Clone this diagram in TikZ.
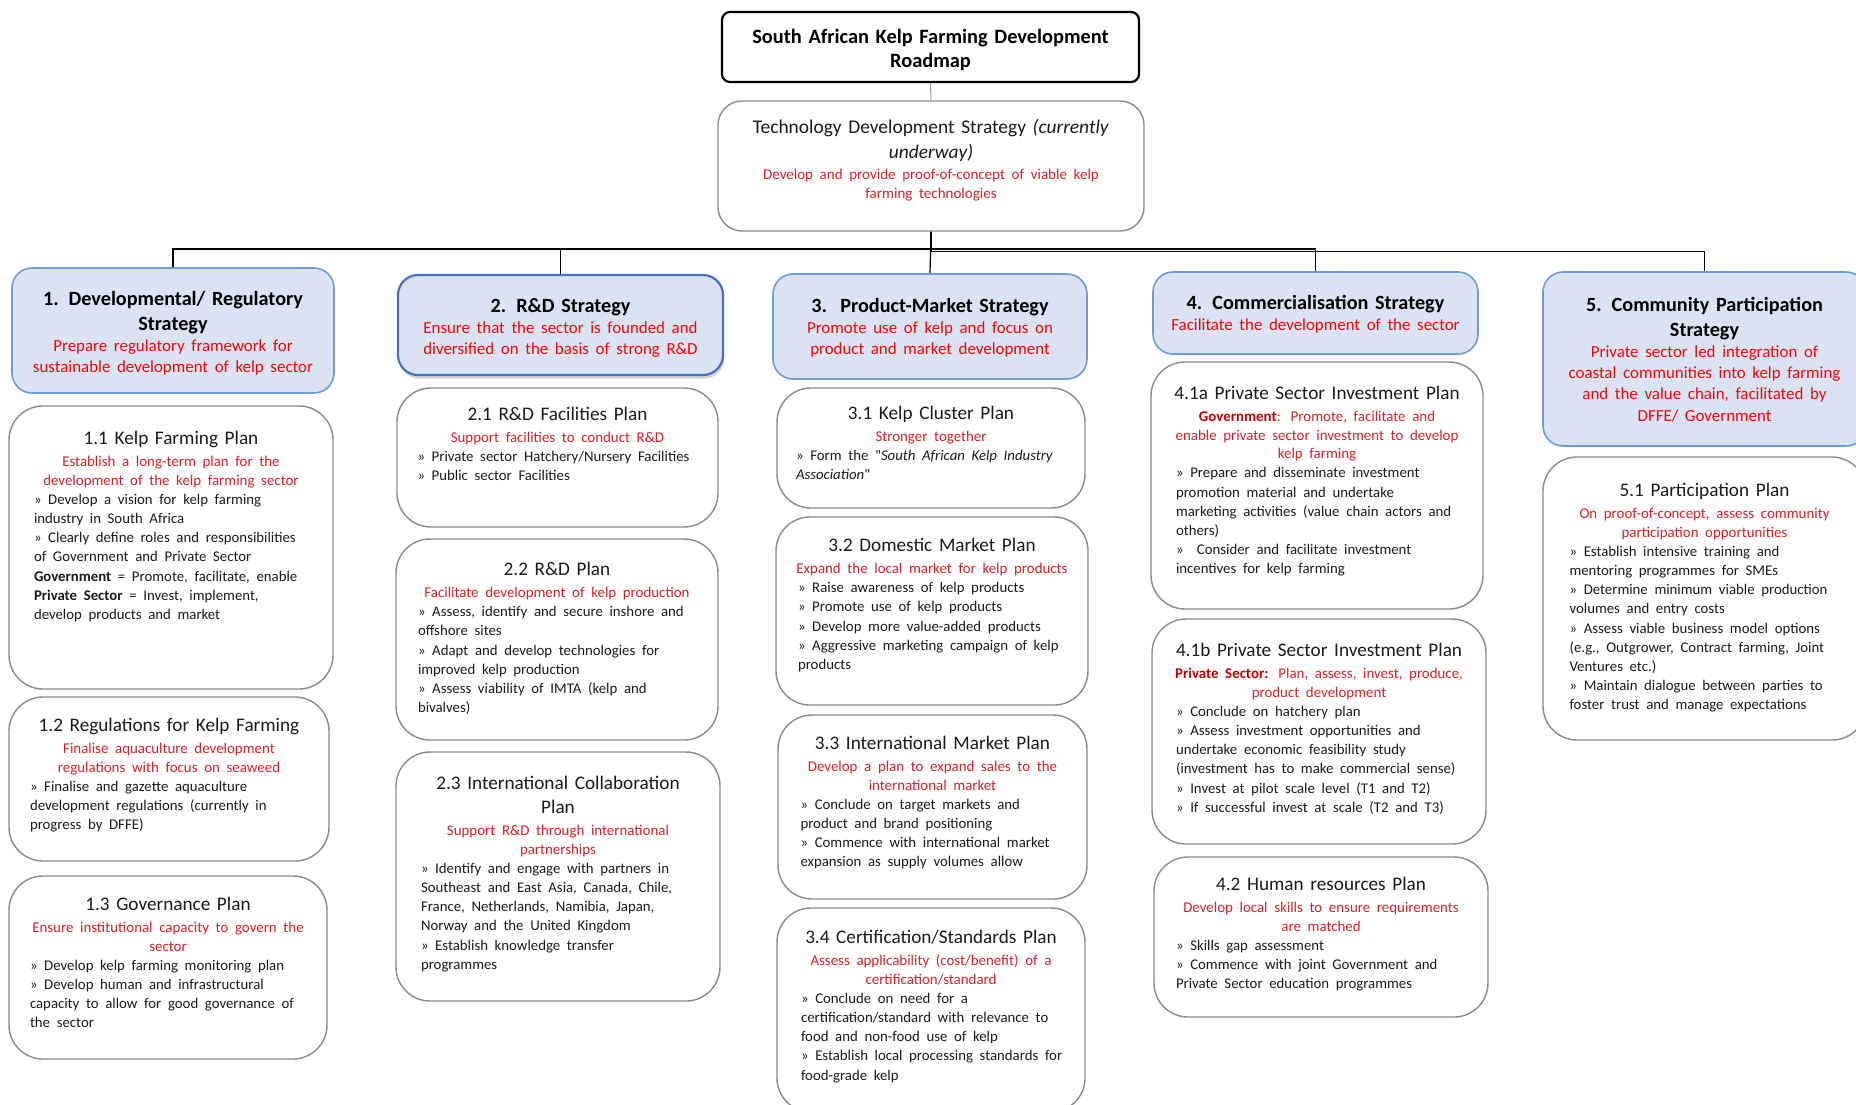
\documentclass[tikz,border=0pt]{standalone}
\usepackage{fontspec}
\setmainfont{Carlito}
\newfontfamily\rawfont{Carlito}[Ligatures=TeXOff]
\usetikzlibrary{fit,calc,shadows}
\definecolor{sfill}{HTML}{DAE3F3}
\definecolor{sline}{HTML}{6C9BD6}
\definecolor{slinedark}{HTML}{4472C4}
\definecolor{sred}{HTML}{FF0000}
\definecolor{pred}{HTML}{D91E26}
\definecolor{dred}{HTML}{C00000}
\definecolor{pline}{HTML}{8A8A8A}
\definecolor{btext}{HTML}{1A1A1A}

\newcommand{\cwide}{\leftskip=-40pt plus 1fil\rightskip=-40pt plus 1fil\parfillskip=0pt\relax}
\newcommand{\lwide}{\leftskip=0pt\rightskip=-40pt plus 1fil\relax}
\newcommand{\ptl}[1]{{\fontsize{9.6}{12}\selectfont\cwide #1\par}\vspace{1.7pt}}
\newcommand{\psb}[1]{{\fontsize{7.45}{9.3}\selectfont\color{pred}\cwide #1\par}}
\newcommand{\pbd}[1]{{\fontsize{7.4}{9.6}\selectfont\lwide #1\par}}
\newcommand{\stl}[1]{{\fontsize{10.1}{12.5}\selectfont\bfseries\cwide #1\par}}
\newcommand{\ssb}[1]{{\fontsize{8.45}{10.6}\selectfont\color{sred}\cwide #1\par}}
\newcommand{\sq}{{\rawfont\upshape"}}
\newcommand{\mkplan}[8]{%
  \node[planbox, fit={(#2,#3) (#4,#5)}] (#1) {};
  \node[ptext, text width=#7] (#1t) at ($(#1.north)+(0,#6)$) {#8};
}

\tikzset{
  planbox/.style={draw=pline, line width=0.7pt, rounded corners=17pt, inner sep=0pt, fill=white},
  ptext/.style={inner sep=0pt, anchor=north, align=left, text=btext},
  stratbox/.style={draw=sline, line width=0.8pt, fill=sfill, rounded corners=10pt, inner sep=0pt},
  stext/.style={inner sep=0pt, align=center, text width=170pt, text=black},
  titlebox/.style={draw=black, line width=1.1pt, rounded corners=4pt, inner sep=0pt, fill=white},
  techbox/.style={draw=pline, line width=0.7pt, rounded corners=12pt, inner sep=0pt, fill=white},
  conn/.style={draw=black, line width=0.6pt},
  connlight/.style={draw=gray!80, line width=0.5pt}
}

\begin{document}
\begin{tikzpicture}[x=0.5pt, y=-0.5pt]
\useasboundingbox (0,0) rectangle (1856,1104);

% Title and technology strategy
\node[titlebox, fit={(722,12) (1139,82)}] (title) {};
\node[inner sep=0pt, align=center, text width=200pt] (titlet) at ($(title.center)+(0,3)$)
  {{\fontsize{10.2}{12}\selectfont\bfseries\cwide South African Kelp Farming Development\\Roadmap\par}};

\node[techbox, fit={(718,101) (1144,231)}] (tech) {};
\node[ptext, align=center, text width=200pt] (techt) at ($(tech.north)+(0,18.5)$)
  {{\fontsize{9.7}{12.5}\selectfont\cwide Technology Development Strategy \textit{(currently}\\\textit{underway)}\par}\vspace{1pt}%
   {\fontsize{7.5}{9.5}\selectfont\color{pred}\cwide Develop and provide proof-of-concept of viable kelp\\farming technologies\par}};

% Strategies
\node[stratbox, fit={(12,268) (334,393)}] (s1) {};
\node[stext] (s1t) at ($(s1.center)+(0,3)$) {\stl{1. Developmental/ Regulatory\\Strategy}\ssb{Prepare regulatory framework for\\sustainable development of kelp sector}};

\node[stratbox, draw=slinedark, line width=1.1pt, drop shadow={shadow xshift=0.6pt, shadow yshift=-1.8pt, opacity=0.35}, fit={(398,275) (723,375)}] (s2) {};
\node[stext] (s2t) at ($(s2.center)+(0,3)$) {\stl{2. R\&D Strategy}\ssb{Ensure that the sector is founded and\\diversified on the basis of strong R\&D}};

\node[stratbox, fit={(773,274) (1087,379)}] (s3) {};
\node[stext] (s3t) at ($(s3.center)+(0,1.5)$) {\stl{3.\ \ Product-Market Strategy}\ssb{Promote use of kelp and focus on\\product and market development}};

\node[stratbox, fit={(1153,272) (1478,354)}] (s4) {};
\node[stext] (s4t) at ($(s4.center)+(0,1)$) {\stl{4. Commercialisation Strategy}\ssb{Facilitate the development of the sector}};

\node[stratbox, fit={(1543,272) (1866,446)}] (s5) {};
\node[stext] (s5t) at ($(s5.center)+(0,0.5)$) {\stl{5. Community Participation\\Strategy}\ssb{Private sector led integration of\\coastal communities into kelp farming\\and the value chain, facilitated by\\DFFE/ Government}};

% Connectors
\coordinate (busA) at (930,249);
\coordinate (busB) at (930,251.5);
\draw[connlight] (title.south) -- (tech.north);
\draw[conn] (tech.south) -- (s3.north);
\draw[conn] (tech.south) -- (tech.south |- busA) -| (s1.north);
\draw[conn] (tech.south) -- (tech.south |- busA) -| (s2.north);
\draw[conn] (tech.south) -- (tech.south |- busA) -| (s4.north);
\draw[conn] (tech.south) -- (tech.south |- busB) -| (s5.north);

% Column 1
\mkplan{p11}{9}{406}{333}{689}{25.5}{137pt}{\ptl{1.1 Kelp Farming Plan}\psb{Establish a long-term plan for the\\development of the kelp farming sector}\pbd{» Develop a vision for kelp farming\\industry in South Africa\\» Clearly define roles and responsibilities\\of Government and Private Sector\\\textbf{Government} = Promote, facilitate, enable\\\textbf{Private Sector} = Invest, implement,\\develop products and market}}

\mkplan{p12}{9}{697}{329}{861}{21.5}{139pt}{\ptl{1.2 Regulations for Kelp Farming}\psb{Finalise aquaculture development\\regulations with focus on seaweed}\pbd{» Finalise and gazette aquaculture\\development regulations (currently in\\progress by DFFE)}}

\mkplan{p13}{9}{876}{327}{1059}{21.5}{138pt}{\ptl{1.3 Governance Plan}\psb{Ensure institutional capacity to govern the\\sector}\pbd{» Develop kelp farming monitoring plan\\» Develop human and infrastructural\\capacity to allow for good governance of\\the sector}}

% Column 2
\mkplan{p21}{397}{388}{718}{527}{19.5}{140pt}{\ptl{2.1 R\&D Facilities Plan}\psb{Support facilities to conduct R\&D}\pbd{» Private sector Hatchery/Nursery Facilities\\» Public sector Facilities}}

\mkplan{p22}{396}{539}{718}{740}{23.5}{139pt}{\ptl{2.2 R\&D Plan}\psb{Facilitate development of kelp production}\pbd{» Assess, identify and secure inshore and\\offshore sites\\» Adapt and develop technologies for\\improved kelp production\\» Assess viability of IMTA (kelp and\\bivalves)}}

\mkplan{p23}{396}{752}{720}{1001}{24.5}{137pt}{\ptl{2.3 International Collaboration\\Plan}\psb{Support R\&D through international\\partnerships}\pbd{» Identify and engage with partners in\\Southeast and East Asia, Canada, Chile,\\France, Netherlands, Namibia, Japan,\\Norway and the United Kingdom\\» Establish knowledge transfer\\programmes}}

% Column 3
\mkplan{p31}{777}{388}{1085}{508}{18.5}{135pt}{\ptl{3.1 Kelp Cluster Plan}\psb{Stronger together}\pbd{» Form the \sq\textit{South African Kelp Industry}\\\textit{Association}\sq}}

\mkplan{p32}{776}{517}{1088}{705}{21.5}{134pt}{\ptl{3.2 Domestic Market Plan}\psb{Expand the local market for kelp products}\pbd{» Raise awareness of kelp products\\» Promote use of kelp products\\» Develop more value-added products\\» Aggressive marketing campaign of kelp\\products}}

\mkplan{p33}{778}{715}{1087}{899}{21.5}{132pt}{\ptl{3.3 International Market Plan}\psb{Develop a plan to expand sales to the\\international market}\pbd{» Conclude on target markets and\\product and brand positioning\\» Commence with international market\\expansion as supply volumes allow}}

\mkplan{p34}{777}{908}{1085}{1112}{22.5}{130pt}{\ptl{3.4 Certification/Standards Plan}\psb{Assess applicability (cost/benefit) of a\\certification/standard}\pbd{» Conclude on need for a\\certification/standard with relevance to\\food and non-food use of kelp\\» Establish local processing standards for\\food-grade kelp}}

% Column 4
\mkplan{p41a}{1151}{362}{1483}{609}{24.5}{141pt}{\ptl{4.1a Private Sector Investment Plan}\psb{\textbf{\color{dred}Government}: Promote, facilitate and\\enable private sector investment to develop\\kelp farming}\pbd{» Prepare and disseminate investment\\promotion material and undertake\\marketing activities (value chain actors and\\others)\\»\ \ Consider and facilitate investment\\incentives for kelp farming}}

\mkplan{p41b}{1152}{619}{1486}{844}{24.5}{143pt}{\ptl{4.1b Private Sector Investment Plan}\psb{\textbf{\color{dred}Private Sector:} Plan, assess, invest, produce,\\product development}\pbd{» Conclude on hatchery plan\\» Assess investment opportunities and\\undertake economic feasibility study\\(investment has to make commercial sense)\\» Invest at pilot scale level (T1 and T2)\\» If successful invest at scale (T2 and T3)}}

\mkplan{p42}{1154}{857}{1488}{1017}{20.5}{145pt}{\ptl{4.2 Human resources Plan}\psb{Develop local skills to ensure requirements\\are matched}\pbd{» Skills gap assessment\\» Commence with joint Government and\\Private Sector education programmes}}

% Column 5
\mkplan{p51}{1543}{457}{1866}{740}{26.5}{135pt}{\ptl{5.1 Participation Plan}\psb{On proof-of-concept, assess community\\participation opportunities}\pbd{» Establish intensive training and\\mentoring programmes for SMEs\\» Determine minimum viable production\\volumes and entry costs\\» Assess viable business model options\\(e.g., Outgrower, Contract farming, Joint\\Ventures etc.)\\» Maintain dialogue between parties to\\foster trust and manage expectations}}

\end{tikzpicture}
\end{document}
